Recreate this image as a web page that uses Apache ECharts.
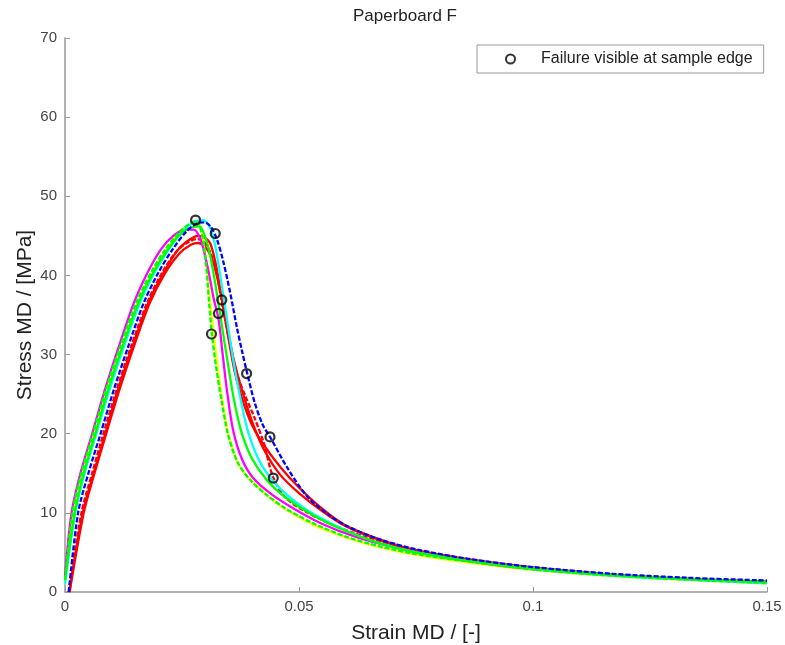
<!DOCTYPE html>
<html>
<head>
<meta charset="utf-8">
<script src="https://cdn.jsdelivr.net/npm/echarts@6/dist/echarts.min.js"></script>
<style>
html,body{margin:0;padding:0;background:#fff;}
#chart{width:785px;height:645px;}
</style>
</head>
<body>
<div id="chart"></div>
<script>
// ---- data: [strain, stress MPa] ----
const titleText = 'Paperboard F';
const xTicks = [0, 0.05, 0.1, 0.15];
const yTicks = [0, 10, 20, 30, 40, 50, 60, 70];

const greenDashed = [[0,1.5],[0.0016,10],[0.0035,15],[0.006,20],[0.0087,25.5],[0.0118,31],[0.0152,36.5],[0.0183,40.3],[0.0214,43.3],[0.0245,45.5],[0.0268,46.6],[0.0281,46.9],[0.0293,45],[0.0302,41],[0.0308,36.5],[0.0314,32.5],[0.0324,28],[0.0335,24],[0.0348,20],[0.0368,16.5],[0.0395,14.2],[0.043,12.3],[0.047,10.6],[0.053,8.7],[0.06,7.0],[0.067,5.8],[0.075,4.8],[0.088,3.7],[0.1,2.85],[0.115,2.15],[0.13,1.65],[0.15,1.15]];
const magenta = [[0,2],[0.0014,10],[0.0033,15],[0.0058,20],[0.0085,25.5],[0.0115,31],[0.0147,36.5],[0.0176,40.3],[0.0205,43.3],[0.0233,45.1],[0.0258,45.8],[0.0275,45.8],[0.029,44.5],[0.0305,41],[0.0318,37],[0.0328,34.5],[0.0337,30],[0.0346,25.5],[0.0359,20.5],[0.0378,16.8],[0.0402,14.4],[0.044,12.4],[0.049,10.5],[0.055,8.6],[0.062,7.0],[0.07,5.7],[0.08,4.5],[0.09,3.6],[0.1,2.9],[0.115,2.2],[0.13,1.7],[0.15,1.2]];
const yellow = [[0,1],[0.0019,10],[0.0039,15],[0.0064,20],[0.0091,25.5],[0.0122,31],[0.0156,36.5],[0.0186,40.3],[0.0217,43.3],[0.0247,45.6],[0.027,46.5],[0.0284,46.7],[0.0296,44],[0.0306,39],[0.0316,33.5],[0.0326,28.5],[0.0336,24.3],[0.0349,20],[0.037,16.2],[0.039,14.6],[0.0425,12.6],[0.047,10.5],[0.053,8.5],[0.06,6.9],[0.067,5.7],[0.075,4.7],[0.088,3.6],[0.1,2.8],[0.115,2.1],[0.13,1.6],[0.15,1.1]];
const greenSolid = [[0,1.5],[0.0021,10],[0.004,15],[0.0065,20],[0.0092,25.5],[0.0123,31],[0.0157,36.5],[0.0188,40.3],[0.022,43.3],[0.025,45.4],[0.0272,46.1],[0.0287,46.2],[0.03,44.8],[0.0312,42],[0.0325,37.5],[0.0337,33],[0.0349,28.5],[0.0362,24],[0.0378,20],[0.04,16.8],[0.0432,14.1],[0.047,12],[0.053,9.7],[0.06,7.7],[0.067,6.2],[0.075,5.0],[0.088,3.8],[0.1,3.0],[0.115,2.25],[0.13,1.75],[0.15,1.25]];
const cyan = [[0,1],[0.0022,10],[0.0042,15],[0.0067,20],[0.0095,25.5],[0.0126,31],[0.016,36.5],[0.0191,40.3],[0.0222,43.3],[0.0252,45.6],[0.0277,46.8],[0.0295,47],[0.0308,46.3],[0.032,44],[0.0333,39.5],[0.0346,34.5],[0.0359,29.5],[0.0373,25],[0.0391,20.3],[0.0415,16.6],[0.0445,14],[0.048,12],[0.053,9.9],[0.06,7.8],[0.067,6.2],[0.075,5.0],[0.088,3.8],[0.1,2.9],[0.115,2.15],[0.13,1.65],[0.15,1.1]];
const redSolidA = [[0.0009,0],[0.0038,10],[0.0061,15],[0.0086,20],[0.0113,25.5],[0.0144,31],[0.0178,36.5],[0.021,40.3],[0.0241,43.2],[0.0268,44.6],[0.0285,45],[0.0298,44.8],[0.031,44.1],[0.0322,41.5],[0.0335,37],[0.0348,32.5],[0.0362,28],[0.0378,24.5],[0.0398,21.3],[0.042,19],[0.046,15.8],[0.05,13.2],[0.055,10.5],[0.06,8.4],[0.067,6.7],[0.075,5.3],[0.088,4.0],[0.1,3.1],[0.115,2.3],[0.13,1.75],[0.15,1.3]];
const redSolidB = [[0.001,0],[0.004,10],[0.0063,15],[0.0088,20],[0.0116,25.5],[0.0147,31],[0.0181,36.5],[0.0213,40.2],[0.0245,42.8],[0.027,43.9],[0.0285,44.1],[0.03,43.6],[0.0315,42],[0.033,38.5],[0.0345,34],[0.036,29.5],[0.0378,25.5],[0.04,21.5],[0.0425,18],[0.046,14.8],[0.05,12.5],[0.055,10.2],[0.06,8.3],[0.067,6.6],[0.075,5.2],[0.088,3.9],[0.1,3.05],[0.115,2.25],[0.13,1.7],[0.15,1.25]];
const redDashed = [[0.0008,0],[0.0035,10],[0.0058,15],[0.0082,20],[0.011,25.5],[0.0141,31],[0.0175,36.5],[0.0207,40.3],[0.0239,43.1],[0.0266,44.3],[0.0282,44.6],[0.0296,44.3],[0.031,43],[0.0323,40.5],[0.0337,36],[0.0352,31.5],[0.0368,27.5],[0.0385,24.8],[0.0405,22],[0.0425,18.8],[0.0444,14.6],[0.047,12],[0.051,10.3],[0.056,8.8],[0.062,7.4],[0.07,5.9],[0.08,4.7],[0.09,3.8],[0.1,3.0],[0.115,2.25],[0.13,1.7],[0.15,1.25]];
const blueDashed = [[0.0008,0],[0.0028,10],[0.005,15],[0.0076,20],[0.0104,25.5],[0.0135,31],[0.0168,36.5],[0.0199,40.3],[0.023,43.3],[0.026,45.6],[0.0283,46.6],[0.0298,46.7],[0.0312,46.1],[0.0325,44.5],[0.0338,41.8],[0.0353,37.8],[0.0367,33.5],[0.0378,30.5],[0.0389,27.7],[0.0405,24],[0.0422,21.2],[0.044,19.4],[0.0474,15.8],[0.0517,12.1],[0.056,9.9],[0.06,8.4],[0.067,6.7],[0.075,5.4],[0.086,4.2],[0.1,3.15],[0.117,2.3],[0.133,1.8],[0.15,1.45]];
const failurePoints = [[0.0279,47.0],[0.0321,45.3],[0.0335,36.9],[0.0328,35.2],[0.0313,32.6],[0.0388,27.6],[0.0438,19.6],[0.0445,14.4]];
const failureLabel = 'Failure visible at sample edge';

const FONT = '"Liberation Sans", Arial, Helvetica, sans-serif';

function lineSeries(name, data, color, dashed) {
  return {
    name: name, type: 'line', data: data, showSymbol: false, symbol: 'none',
    smooth: 0.3, silent: true, z: 2,
    lineStyle: { color: color, width: 2.3, type: dashed ? [5, 2] : 'solid' }
  };
}

const chart = echarts.init(document.getElementById('chart'), null, { renderer: 'canvas' });
chart.setOption({
  animation: false,
  backgroundColor: '#ffffff',
  title: {
    text: titleText, left: 348, top: 3,
    textStyle: { fontFamily: FONT, fontSize: 17, fontWeight: 'normal', color: '#222' }
  },
  legend: {
    data: [failureLabel], left: 477, top: 45,
    orient: 'horizontal',
    backgroundColor: '#fff', borderColor: '#999', borderWidth: 1, borderRadius: 0,
    padding: [6, 11, 6, 28], itemWidth: 9, itemHeight: 9,
    textStyle: { fontFamily: FONT, fontSize: 16, color: '#222', padding: [0, 0, 0, 21] }
  },
  grid: { left: 65, right: 18, top: 38, bottom: 53, containLabel: false, outerBoundsMode: 'none' },
  xAxis: {
    type: 'value', min: 0, max: 0.15, interval: 0.05,
    name: 'Strain MD / [-]', nameLocation: 'middle', nameGap: 31, nameMoveOverlap: false,
    nameTextStyle: { fontFamily: FONT, fontSize: 21, color: '#222' },
    axisLine: { show: true, lineStyle: { color: '#999', width: 1.5 } },
    axisTick: { show: true, inside: true, length: 5, lineStyle: { color: '#999' } },
    axisLabel: { fontFamily: FONT, fontSize: 15, color: '#444', margin: 7,
      formatter: v => { const t = xTicks.find(k => Math.abs(k - v) < 1e-9); return t === undefined ? '' : String(t); } },
    splitLine: { show: false }
  },
  yAxis: {
    type: 'value', min: 0, max: 70, interval: 10,
    name: 'Stress MD / [MPa]', nameLocation: 'middle', nameGap: 29, nameMoveOverlap: false,
    nameTextStyle: { fontFamily: FONT, fontSize: 21, color: '#222' },
    axisLine: { show: true, lineStyle: { color: '#999', width: 1.5 } },
    axisTick: { show: true, inside: true, length: 5, lineStyle: { color: '#999' } },
    axisLabel: { fontFamily: FONT, fontSize: 15, color: '#444', margin: 8,
      formatter: v => { const t = yTicks.find(k => Math.abs(k - v) < 1e-9); return t === undefined ? '' : String(t); } },
    splitLine: { show: false }
  },
  series: [
    lineSeries('r2', redSolidB, '#ff0000', false),
    lineSeries('rd', redDashed, '#ff0000', true),
    lineSeries('r1', redSolidA, '#ff0000', false),
    lineSeries('y', yellow, '#ffff00', false),
    lineSeries('m', magenta, '#ff00ff', false),
    lineSeries('c', cyan, '#00ffff', false),
    lineSeries('g', greenSolid, '#00ff00', false),
    lineSeries('gd', greenDashed, '#00ff00', true),
    lineSeries('b', blueDashed, '#0000ff', true),
    {
      name: failureLabel, type: 'scatter', data: failurePoints,
      symbol: 'circle', symbolSize: 9, z: 5,
      itemStyle: { color: 'rgba(0,0,0,0)', borderColor: '#000', borderWidth: 2.2 }
    }
  ]
});
</script>
</body>
</html>
